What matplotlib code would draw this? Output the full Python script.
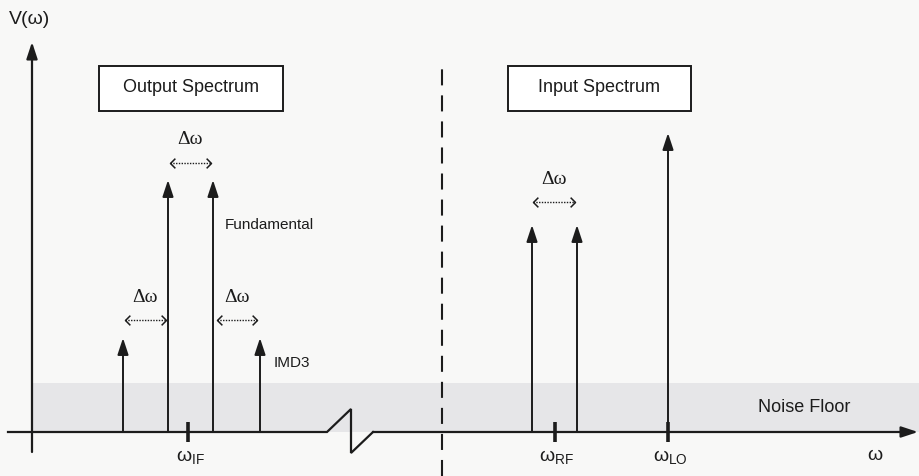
import matplotlib
matplotlib.use("Agg")
import matplotlib.pyplot as plt
from matplotlib.patches import FancyArrowPatch, Rectangle, ArrowStyle

plt.rcParams['font.family'] = ['Liberation Sans', 'DejaVu Sans']
plt.rcParams['mathtext.fontset'] = 'custom'
plt.rcParams['mathtext.rm'] = 'Liberation Sans'
plt.rcParams['mathtext.it'] = 'Liberation Sans'

# frequency positions (drawing units) and heights above the baseline
out_tone_x = [123, 168, 213, 260]
out_tone_h = [94, 252, 252, 94]
in_tone_x = [532, 577]
in_tone_h = [207, 207]
lo_x = 668
lo_h = 299

tick_x = [188, 555, 668]
tick_labels = [r'$\mathrm{\omega}_{\mathrm{IF}}$', r'$\mathrm{\omega}_{\mathrm{RF}}$', r'$\mathrm{\omega}_{\mathrm{LO}}$']

# delta-omega spacing markers: (left, right, height)
delta_marks = [(170, 211, 269), (125, 166, 112), (217, 257, 112), (533, 575, 230)]

# axis break zigzag
break_x = [8, 327, 351, 351, 373]
break_y = [0, 0, 23, -21, 0]

ink = '#1c1c1c'
lw = 1.4

fig = plt.figure(figsize=(9.2, 4.76), dpi=100, facecolor='#f8f8f7')
ax = fig.add_axes([0, 0, 1, 1])
ax.set_xlim(0, 920)
ax.set_ylim(-44, 432)
ax.axis('off')

head = ArrowStyle('-|>', head_length=10, head_width=3.3)


def arrow(x0, y0, x1, y1, **kw):
    a = FancyArrowPatch((x0, y0), (x1, y1), arrowstyle=head, mutation_scale=1,
                        shrinkA=0, shrinkB=0, color=ink, lw=kw.get('lw', lw))
    ax.add_patch(a)


# noise floor band
ax.add_patch(Rectangle((33, 0), 887, 49, facecolor='#e6e6e8', edgecolor='none', zorder=0))

# vertical axis
arrow(32, -20, 32, 390, lw=1.6)
ax.text(30, 412, 'V(ω)', fontsize=14, ha='center', va='center', color=ink)

# horizontal axis with break
ax.plot(break_x, break_y, color=ink, lw=1.6, solid_joinstyle='miter')
arrow(373, 0, 918, 0, lw=1.6)
ax.text(875, -23, 'ω', fontsize=14, ha='center', va='center', color=ink)

# dashed separator
ax.plot([442, 442], [-44, 365], color=ink, lw=1.5, linestyle=(0, (7.7, 4.8)))

# tones
for x, h in zip(out_tone_x, out_tone_h):
    arrow(x, 0, x, h)
for x, h in zip(in_tone_x, in_tone_h):
    arrow(x, 0, x, h)
arrow(lo_x, 0, lo_x, lo_h)

# ticks on frequency axis
for x, lab in zip(tick_x, tick_labels):
    ax.plot([x, x], [-10, 10], color=ink, lw=2.6, solid_capstyle='butt')
    ax.text(x + 2, -25, lab, fontsize=14, ha='center', va='center', color=ink)

# delta-omega markers
chev_l = [(1, 1), (0, 0), (1, -1)]
chev_r = [(-1, 1), (0, 0), (-1, -1)]
for x0, x1, y in delta_marks:
    ax.plot([x0, x1], [y, y], color=ink, lw=1.0, linestyle=(0, (1, 1)))
    ax.plot([x0], [y], marker=chev_l, markersize=7, mfc='none', mec=ink, mew=1.1)
    ax.plot([x1], [y], marker=chev_r, markersize=7, mfc='none', mec=ink, mew=1.1)
    ax.text((x0 + x1) / 2, y + 23, 'Δω', fontsize=14, family='Liberation Serif',
            ha='center', va='center', color=ink)

# labels
ax.text(225, 207, 'Fundamental', fontsize=11, ha='left', va='center', color=ink)
ax.text(274, 69, 'IMD3', fontsize=11, ha='left', va='center', color=ink)
ax.text(804, 25, 'Noise Floor', fontsize=13, ha='center', va='center', color=ink)

# title boxes
for x0, x1, title in [(99, 283, 'Output Spectrum'), (508, 691, 'Input Spectrum')]:
    ax.add_patch(Rectangle((x0, 321), x1 - x0, 45, facecolor='white', edgecolor=ink, lw=1.4))
    ax.text((x0 + x1) / 2, 344, title, fontsize=13, ha='center', va='center', color=ink)

fig.savefig('out.png', dpi=100, facecolor=fig.get_facecolor())
